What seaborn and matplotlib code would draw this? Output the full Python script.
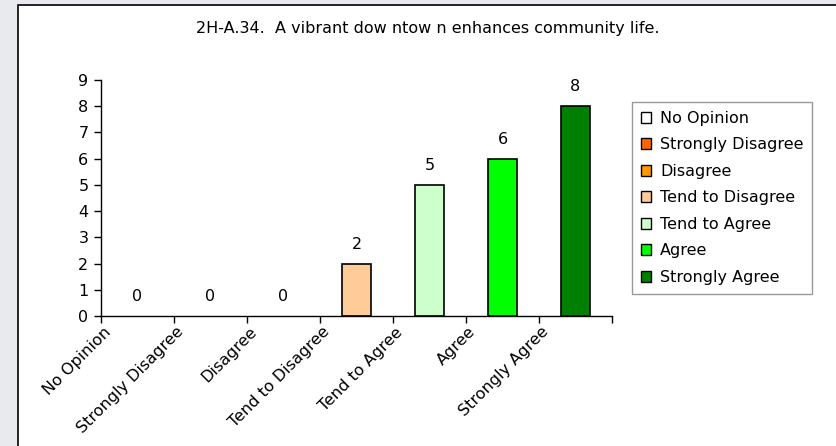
import pandas as pd
import matplotlib.pyplot as plt
import seaborn as sns
from matplotlib.patches import Patch, Rectangle

# ---- data ----
categories = ["No Opinion", "Strongly Disagree", "Disagree", "Tend to Disagree",
              "Tend to Agree", "Agree", "Strongly Agree"]
counts = [0, 0, 0, 2, 5, 6, 8]
colors = ["#FFFFFF", "#FF6600", "#FF9900", "#FFCC99", "#CCFFCC", "#00FF00", "#008000"]
title = "2H-A.34.  A vibrant dow ntow n enhances community life."

df = pd.DataFrame({"cat": categories, "n": counts})

sns.set_theme(style="white")
plt.rcParams["font.family"] = ["DejaVu Sans"]
plt.rcParams.update({"text.color": "black", "axes.labelcolor": "black",
                     "xtick.color": "black", "ytick.color": "black"})
FS = 11.5

W, H = 837, 446
fig = plt.figure(figsize=(W / 100, H / 100), dpi=100)
fig.patch.set_facecolor("#E8EAEE")

# white chart panel with black border (runs off right/bottom edges)
fig.add_artist(Rectangle((18 / W, -0.05), 1.1, 1 - 5 / H + 0.05,
                         transform=fig.transFigure, facecolor="white",
                         edgecolor="black", linewidth=1.2, zorder=0))

ax = fig.add_axes([101 / W, 1 - 316 / H, (612 - 101) / W, (316 - 80) / H])
ax.set_facecolor("none")

sns.barplot(data=df, x="cat", y="n", hue="cat", palette=colors, order=categories,
            hue_order=categories, width=0.41, saturation=1, edgecolor="black",
            linewidth=1.2, legend=False, ax=ax)
# empty bars show no outline
for p in ax.patches:
    if p.get_height() == 0:
        p.set_linewidth(0)

ax.set_xlim(-0.5, len(categories) - 0.5)
ax.set_ylim(0, 9)
ax.set_yticks(range(10))
ax.set_xlabel("")
ax.set_ylabel("")

# value labels above bars
for i, v in enumerate(counts):
    ax.annotate(str(v), (i, v), xytext=(0, 14), textcoords="offset points",
                ha="center", va="center", fontsize=FS, color="black")

# category ticks at boundaries, labels rotated (Excel style, ending near left boundary)
ax.set_xticks([i - 0.5 for i in range(len(categories) + 1)], minor=False)
ax.set_xticklabels([""] * (len(categories) + 1))
ax.set_xticks([i - 0.47 for i in range(len(categories))], minor=True)
ax.set_xticklabels(categories, minor=True, rotation=45, ha="right",
                   rotation_mode="anchor", fontsize=FS)
ax.tick_params(axis="x", which="minor", length=0, pad=6)
ax.tick_params(axis="x", which="major", length=5, width=1, color="black", direction="out")
ax.tick_params(axis="y", length=5, width=1, color="black", direction="out",
               labelsize=FS, pad=4)
ax.tick_params(axis="both", bottom=True, left=True)

for s in ["top", "right"]:
    ax.spines[s].set_visible(False)
for s in ["left", "bottom"]:
    ax.spines[s].set_color("black")
    ax.spines[s].set_linewidth(1)

# legend
handles = [Patch(facecolor=c, edgecolor="black", linewidth=1, label=l)
           for c, l in zip(colors, categories)]
leg = fig.legend(handles=handles, loc="upper left",
                 bbox_to_anchor=(632 / W, 1 - 102 / H), frameon=True, fancybox=False,
                 fontsize=FS, handlelength=0.65, handleheight=0.65, handletextpad=0.55,
                 labelspacing=0.72, borderpad=0.55, borderaxespad=0)
leg.get_frame().set_edgecolor("#808080")
leg.get_frame().set_linewidth(1)

fig.text(428 / W, 1 - 28 / H, title, ha="center", va="center", fontsize=FS)

fig.savefig("out.png", dpi=100, facecolor=fig.get_facecolor())
